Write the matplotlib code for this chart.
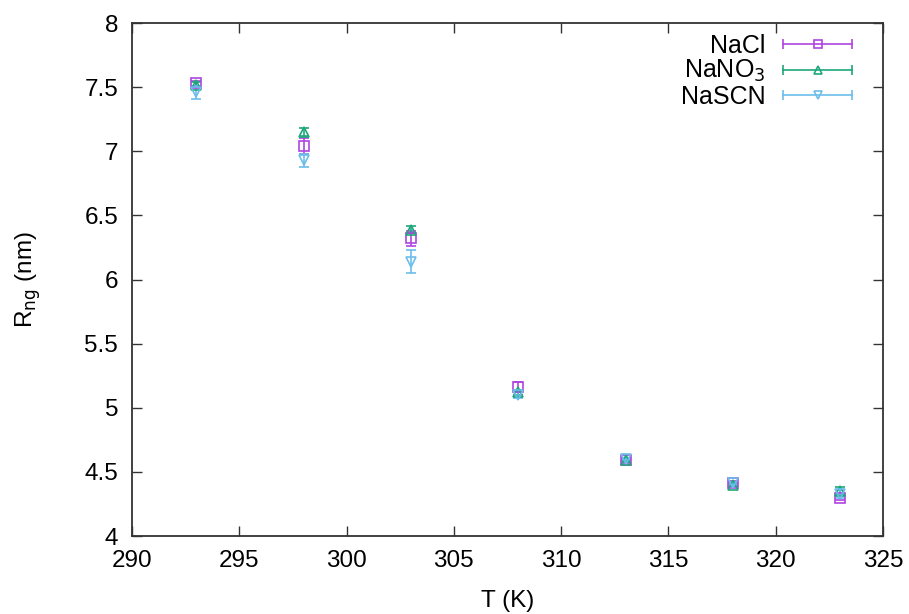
import numpy as np
import matplotlib
matplotlib.use("Agg")
import matplotlib.pyplot as plt
from matplotlib.lines import Line2D
from matplotlib.legend_handler import HandlerBase

plt.rcParams['font.family'] = ['Liberation Sans', 'DejaVu Sans']

# ==================================
# DATA
# ==================================
temps = [293, 298, 303, 308, 313, 318, 323]

nacl = [7.53, 7.04, 6.32, 5.16, 4.59, 4.41, 4.30]
nacl_err = [0.02, 0.06, 0.06, 0.04, 0.02, 0.02, 0.02]

nano3 = [7.52, 7.15, 6.39, 5.12, 4.59, 4.40, 4.35]
nano3_err = [0.02, 0.03, 0.03, 0.02, 0.01, 0.01, 0.03]

nascn = [7.46, 6.93, 6.14, 5.10, 4.60, 4.41, 4.33]
nascn_err = [0.05, 0.05, 0.09, 0.02, 0.01, 0.01, 0.03]

labels = ["NaCl", r"NaNO$_3$", "NaSCN"]
colors = ["#b044e0", "#1ea77c", "#6cbdeb"]
markers = ["s", "^", "v"]


# gnuplot style legend key: horizontal bar with end caps and marker in middle
class HandlerGnu(HandlerBase):
    def create_artists(self, legend, orig_handle, xdescent, ydescent,
                       width, height, fontsize, trans):
        c = orig_handle.get_color()
        m = orig_handle.get_marker()
        y = height / 2 - ydescent
        line = Line2D([-xdescent, width - xdescent], [y, y], color=c, lw=1.2,
                      transform=trans)
        caps = Line2D([-xdescent, width - xdescent], [y, y], color=c, lw=0,
                      marker="|", markersize=7, markeredgewidth=1.2,
                      transform=trans)
        mid = Line2D([(width - 2 * xdescent) / 2], [y], color=c, lw=0,
                     marker=m, markersize=6, markerfacecolor="none",
                     markeredgewidth=1.2, transform=trans)
        return [line, caps, mid]


# ==================================
# PLOT
# ==================================
fig = plt.figure(figsize=(9.09, 6.14), dpi=100)
ax = fig.add_axes([0.1452, 0.1270, 0.8262, 0.8355])

series = [(nacl, nacl_err), (nano3, nano3_err), (nascn, nascn_err)]
handles = []
for (vals, errs), lab, col, mk in zip(series, labels, colors, markers):
    ax.errorbar(temps, vals, yerr=errs, fmt=mk, color=col,
                markerfacecolor="none", markersize=6.5, markeredgewidth=1.2,
                elinewidth=1.2, capsize=3.5, capthick=1.2)
    handles.append(Line2D([], [], color=col, marker=mk, label=lab))

ax.set_xlim(290, 325)
ax.set_ylim(4, 8)
ax.set_xticks(np.arange(290, 326, 5))
ax.set_yticks(np.arange(4, 8.01, 0.5))
ax.set_yticklabels(["4", "4.5", "5", "5.5", "6", "6.5", "7", "7.5", "8"])

ax.tick_params(direction="in", top=True, right=True, length=7, width=1,
               labelsize=17.5, color="#333333")
ax.tick_params(axis="x", pad=10)
ax.tick_params(axis="y", pad=10)
for s in ax.spines.values():
    s.set_linewidth(1.3)
    s.set_color("#333333")

ax.set_xlabel("T (K)", fontsize=17.5, labelpad=13)
ax.set_ylabel(r"R$_{\rm ng}$ (nm)", fontsize=17.5, labelpad=30)

ax.legend(handles=handles, loc="upper right", frameon=False,
          markerfirst=False, fontsize=18, handlelength=2.75,
          handletextpad=0.7, labelspacing=0.02, borderaxespad=0.0,
          borderpad=0.0, bbox_to_anchor=(0.9587, 0.979),
          handler_map={Line2D: HandlerGnu()})

fig.savefig("out.png", dpi=100)
